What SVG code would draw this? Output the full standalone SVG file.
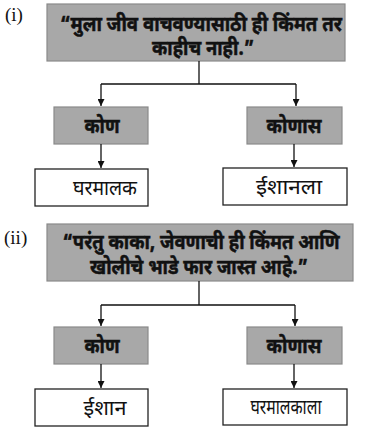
<svg xmlns="http://www.w3.org/2000/svg" width="369" height="432" viewBox="0 0 369 432">
<style>
.q{fill:#a8a8a8;stroke:#8a8a8a;stroke-width:1.2}
.w{fill:#fff;stroke:#222;stroke-width:1.3}
.t{font-family:"Noto Sans Devanagari","Noto Sans","Lohit Devanagari",sans-serif;text-anchor:middle;fill:#111}
.b{font-weight:bold;font-size:21px;stroke:#111;stroke-width:0.5}
.n{font-size:20px}
.lab{font-family:"Liberation Serif",serif;font-size:19px;fill:#111}
.c{fill:none;stroke:#111;stroke-width:1.3}
</style>
<defs>
<marker id="ah" viewBox="0 0 10 10" refX="10" refY="5" markerWidth="7" markerHeight="7" markerUnits="userSpaceOnUse" orient="auto">
<path d="M0,0 L10,5 L0,10 z" fill="#111"/>
</marker>
</defs>
<text class="lab" x="5" y="21">(i)</text>
<text class="lab" x="4" y="244">(ii)</text>
<g id="q1"><rect class="q" x="47" y="4" width="298" height="57"/>
<text class="t b" x="201" y="31" textLength="282" lengthAdjust="spacingAndGlyphs">“मुला जीव वाचवण्यासाठी ही किंमत तर</text>
<text class="t b" x="203" y="55" textLength="102" lengthAdjust="spacingAndGlyphs">काहीच नाही.”</text></g>
<g id="k1"><rect class="q" x="54" y="107" width="94" height="37"/><text class="t b" x="102" y="133" textLength="35" lengthAdjust="spacingAndGlyphs">कोण</text></g>
<g id="k2"><rect class="q" x="247" y="107" width="95" height="37"/><text class="t b" x="294" y="133" textLength="55" lengthAdjust="spacingAndGlyphs">कोणास</text></g>
<g id="a1"><rect class="w" x="35" y="169" width="113" height="37"/><text class="t n" x="105" y="195" textLength="64" lengthAdjust="spacingAndGlyphs">घरमालक</text></g>
<g id="a2"><rect class="w" x="223" y="168" width="124" height="37"/><text class="t n" x="289" y="194" textLength="66" lengthAdjust="spacingAndGlyphs">ईशानला</text></g>
<g id="q2"><rect class="q" x="47" y="224" width="306" height="57"/>
<text class="t b" x="201" y="249" textLength="277" lengthAdjust="spacingAndGlyphs">“परंतु काका, जेवणाची ही किंमत आणि</text>
<text class="t b" x="199" y="274" textLength="218" lengthAdjust="spacingAndGlyphs">खोलीचे भाडे फार जास्त आहे.”</text></g>
<g id="k3"><rect class="q" x="54" y="327" width="94" height="37"/><text class="t b" x="102" y="353" textLength="35" lengthAdjust="spacingAndGlyphs">कोण</text></g>
<g id="k4"><rect class="q" x="247" y="327" width="95" height="37"/><text class="t b" x="294" y="353" textLength="55" lengthAdjust="spacingAndGlyphs">कोणास</text></g>
<g id="a3"><rect class="w" x="35" y="389" width="113" height="37"/><text class="t n" x="105" y="415" textLength="43" lengthAdjust="spacingAndGlyphs">ईशान</text></g>
<g id="a4"><rect class="w" x="223" y="389" width="124" height="36"/><text class="t n" x="286" y="414" textLength="71" lengthAdjust="spacingAndGlyphs">घरमालकाला</text></g>
<g id="connectors">
<path class="c" d="M199,61 V84 M101,84 H296"/>
<path class="c" d="M101,84 V106" marker-end="url(#ah)"/>
<path class="c" d="M296,84 V106" marker-end="url(#ah)"/>
<path class="c" d="M101,144 V168" marker-end="url(#ah)"/>
<path class="c" d="M294,144 V167" marker-end="url(#ah)"/>
<path class="c" d="M199,281 V305 M101,305 H295"/>
<path class="c" d="M101,305 V326" marker-end="url(#ah)"/>
<path class="c" d="M295,305 V326" marker-end="url(#ah)"/>
<path class="c" d="M101,364 V388" marker-end="url(#ah)"/>
<path class="c" d="M294,364 V388" marker-end="url(#ah)"/>
</g>
</svg>
